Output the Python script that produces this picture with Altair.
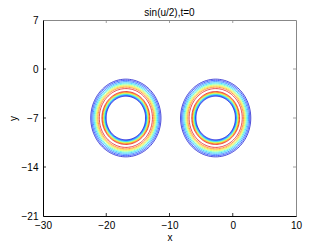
import altair as alt
import numpy as np
import pandas as pd

# Ring centres (x, y)
centers_x = [-16.9, -2.7]
centers_y = [-7.0, -7.0]
# contour levels of sin(u/2) and their colours (jet)
levels = [0.1, 0.2, 0.3, 0.4, 0.5, 0.6, 0.7, 0.8, 0.9]
level_colors = ["#0000c8", "#0028ff", "#0070ff", "#00c8ff", "#40ffc0",
                "#c0ff40", "#ffd000", "#ff7000", "#e00000"]
# radius of each level on the outer and inner side of a ring
outer_radius = [5.55, 5.38, 5.2, 5.02, 4.86, 4.7, 4.55, 4.4, 4.2]
inner_radius = [3.12, 3.2, 3.28, 3.36, 3.44, 3.52, 3.6, 3.68, 3.78]

x_ticks = [-30, -20, -10, 0, 10]
y_ticks = [-21, -14, -7, 0, 7]
title_text = "sin(u/2),t=0"

rows = []
ang = np.linspace(0, 2 * np.pi, 121)
for ci, (cx, cy) in enumerate(zip(centers_x, centers_y)):
    for li, lev in enumerate(levels):
        for side, rad in (("o", outer_radius[li]), ("i", inner_radius[li])):
            for k, a in enumerate(ang):
                rows.append({"x": cx + rad * np.cos(a), "y": cy + rad * np.sin(a),
                             "lev": str(lev), "id": f"{ci}-{li}-{side}", "k": k})
df = pd.DataFrame(rows)

W, H = 253, 196
xs = alt.Scale(domain=[-30, 10], nice=False, zero=False)
ys = alt.Scale(domain=[-21, 7], nice=False, zero=False)

contours = alt.Chart(df).mark_line(strokeWidth=0.7).encode(
    x=alt.X("x:Q", scale=xs,
            axis=alt.Axis(values=x_ticks, title="x", grid=False, tickSize=0,
                          labelPadding=4, titlePadding=2, domainColor="black",
                          labelFlush=False)),
    y=alt.Y("y:Q", scale=ys,
            axis=alt.Axis(values=y_ticks, title="y", grid=False, tickSize=0,
                          labelPadding=5, titlePadding=3, domainColor="black",
                          labelFlush=False)),
    color=alt.Color("lev:N", scale=alt.Scale(domain=[str(l) for l in levels],
                                             range=level_colors), legend=None),
    detail="id:N",
    order="k:Q",
)

xt = pd.DataFrame({"t": x_ticks[1:-1]})
yt = pd.DataFrame({"t": y_ticks[1:-1]})
tick_len = 3
xb = alt.Chart(xt).mark_rule(color="black", strokeWidth=0.8).encode(
    x=alt.X("t:Q", scale=xs), y=alt.value(H), y2=alt.value(H - tick_len))
xtop = alt.Chart(xt).mark_rule(color="#888888", strokeWidth=0.8).encode(
    x=alt.X("t:Q", scale=xs), y=alt.value(0), y2=alt.value(tick_len))
yl = alt.Chart(yt).mark_rule(color="black", strokeWidth=0.8).encode(
    y=alt.Y("t:Q", scale=ys), x=alt.value(0), x2=alt.value(tick_len))
yr = alt.Chart(yt).mark_rule(color="#888888", strokeWidth=0.8).encode(
    y=alt.Y("t:Q", scale=ys), x=alt.value(W), x2=alt.value(W - tick_len))

title = alt.Chart(pd.DataFrame({"t": [title_text]})).mark_text(
    font="Liberation Sans", fontSize=10, color="black", baseline="alphabetic",
    align="center").encode(text="t:N", x=alt.value(W / 2), y=alt.value(-4))

chart = alt.layer(contours, xb, xtop, yl, yr, title).properties(
    width=W, height=H,
    autosize=alt.AutoSizeParams(type="none"),
    padding={"left": 35, "top": 12, "right": 23, "bottom": 30},
).configure_view(stroke="#888888", strokeWidth=1).configure_axis(
    labelFont="Liberation Sans", titleFont="Liberation Sans", labelFontSize=10,
    titleFontSize=10, titleFontWeight="normal", labelColor="black",
    titleColor="black", domainWidth=1,
)

chart.save("out.html", embed_options={"renderer": "svg", "actions": False})
